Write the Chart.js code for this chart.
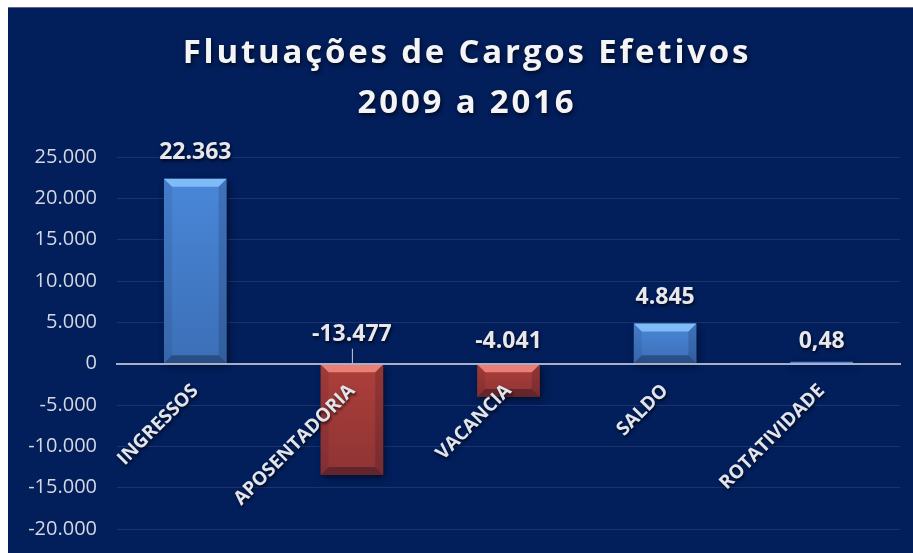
<!DOCTYPE html>
<html>
<head>
<meta charset="utf-8">
<script src="https://cdn.jsdelivr.net/npm/chart.js@4.4.1/dist/chart.umd.min.js"></script>
<style>
  html, body { margin: 0; padding: 0; background: #fff; }
  #wrap { position: relative; width: 913px; height: 553px; }
</style>
</head>
<body>
<div id="wrap"><canvas id="chart"></canvas></div>
<script>
let titleLines = ['Flutuações de Cargos Efetivos', '2009 a 2016']
let categories = ['INGRESSOS', 'APOSENTADORIA', 'VACANCIA', 'SALDO', 'ROTATIVIDADE']
let values = [22363, -13477, -4041, 4845, 0.48]
let yMin = -20000
let yMax = 25000
let yStep = 5000

// extra lift for the value labels sitting over the zero line (style only)
let labelLift = [0, 7, 0, 0, 0]

function fmtBR(v) {
  let neg = v < 0
  let a = Math.abs(v)
  let whole = Math.floor(a)
  let frac = Math.round((a - whole) * 100)
  let s = String(whole).replace(/\B(?=(\d{3})+(?!\d))/g, '.')
  if (frac > 0) s += ',' + String(frac).padStart(2, '0')
  return (neg ? '-' : '') + s
}

function withShadow(ctx, blur) {
  ctx.shadowColor = 'rgba(0,0,0,0.7)'
  ctx.shadowBlur = blur
  ctx.shadowOffsetX = 1
  ctx.shadowOffsetY = 2
}

let backdrop = {
  id: 'backdrop',
  beforeDraw(chart) {
    let ctx = chart.ctx
    ctx.save()
    ctx.fillStyle = '#ffffff'
    ctx.fillRect(0, 0, chart.width, chart.height)
    ctx.fillStyle = '#021e5b'
    ctx.fillRect(8, 7, chart.width - 8, chart.height - 7)
    ctx.fillStyle = '#5d6688'
    ctx.fillRect(8, 7, chart.width - 8, 1)
    ctx.restore()

    // spaced, shadowed title and shadowed category labels
    let t = chart.titleBlock
    if (t && !t._styled) {
      let drawTitle = t.draw
      t.draw = function(...args) {
        this.ctx.save()
        this.ctx.translate(17, 0)
        this.ctx.letterSpacing = '2.8px'
        withShadow(this.ctx, 4)
        drawTitle.apply(this, args)
        this.ctx.restore()
      }
      t._styled = true
    }
    let xs = chart.scales.x
    if (xs && !xs._styled) {
      let drawLabels = xs.drawLabels
      xs.drawLabels = function(...args) {
        this.ctx.save()
        withShadow(this.ctx, 3)
        drawLabels.apply(this, args)
        this.ctx.restore()
      }
      xs._styled = true
    }
  },
}

let barShadow = {
  id: 'barShadow',
  beforeDatasetsDraw(chart) {
    let ctx = chart.ctx
    ctx.save()
    ctx.shadowColor = 'rgba(0,0,0,0.55)'
    ctx.shadowBlur = 7
    ctx.shadowOffsetX = 2
    ctx.shadowOffsetY = 3
  },
  afterDatasetsDraw(chart) {
    chart.ctx.restore()
  },
}

function quad(ctx, pts, colour) {
  ctx.beginPath()
  ctx.moveTo(pts[0][0], pts[0][1])
  for (let p of pts.slice(1)) ctx.lineTo(p[0], p[1])
  ctx.closePath()
  ctx.fillStyle = colour
  ctx.fill()
}

let bevel = {
  id: 'bevel',
  afterDatasetsDraw(chart) {
    let ctx = chart.ctx
    let meta = chart.getDatasetMeta(0)
    ctx.save()
    meta.data.forEach((bar, i) => {
      let p = bar.getProps(['x', 'y', 'base', 'width'], true)
      let l = p.x - p.width / 2
      let r = p.x + p.width / 2
      let t = Math.min(p.y, p.base)
      let b = Math.max(p.y, p.base)
      if (b - t < 8) return
      let e = Math.min(8, (b - t) / 3)
      let up = values[i] >= 0
      let g = ctx.createLinearGradient(0, t, 0, b)
      g.addColorStop(0, 'rgba(0,0,30,0)')
      g.addColorStop(1, 'rgba(0,0,30,0.18)')
      ctx.fillStyle = g
      ctx.fillRect(l, t, r - l, b - t)
      quad(ctx, [[l, t], [r, t], [r - e, t + e], [l + e, t + e]],
        up ? 'rgba(140,200,255,0.8)' : 'rgba(255,150,140,0.75)')
      quad(ctx, [[l, b], [r, b], [r - e, b - e], [l + e, b - e]], 'rgba(0,0,20,0.3)')
      quad(ctx, [[l, t], [l + e, t + e], [l + e, b - e], [l, b]], 'rgba(0,0,20,0.08)')
      quad(ctx, [[r, t], [r - e, t + e], [r - e, b - e], [r, b]], 'rgba(0,0,20,0.15)')
    })
    ctx.restore()
  },
}

let valueLabels = {
  id: 'valueLabels',
  afterDatasetsDraw(chart) {
    let ctx = chart.ctx
    let meta = chart.getDatasetMeta(0)
    let zeroY = chart.scales.y.getPixelForValue(0)
    ctx.save()
    ctx.font = 'bold 23px "Open Sans"'
    ctx.textAlign = 'center'
    ctx.textBaseline = 'middle'
    meta.data.forEach((bar, i) => {
      let v = values[i]
      let y = v >= 1000 ? bar.y - 26 : zeroY - 22 - labelLift[i]
      if (labelLift[i] > 0) {
        ctx.shadowColor = 'transparent'
        ctx.strokeStyle = '#c8ccd8'
        ctx.lineWidth = 1
        ctx.beginPath()
        ctx.moveTo(bar.x + 0.5, y + 14)
        ctx.lineTo(bar.x + 0.5, zeroY)
        ctx.stroke()
      }
      withShadow(ctx, 3)
      ctx.fillStyle = '#e8e8ec'
      ctx.fillText(fmtBR(v), bar.x, y)
    })
    ctx.restore()
  },
}

let ctx = document.getElementById('chart').getContext('2d')
let chart = new Chart(ctx, {
  type: 'bar',
  data: {
    labels: categories,
    datasets: [{
      data: values,
      backgroundColor: values.map(v => v >= 0 ? '#4987d8' : '#ad3f3a'),
      borderWidth: 0,
      minBarLength: 2,
      categoryPercentage: 0.8,
      barPercentage: 0.5,
    }],
  },
  options: {
    responsive: true,
    maintainAspectRatio: false,
    animation: false,
    layout: {
      padding: {left: 0, right: 13, top: 7, bottom: 24},
    },
    plugins: {
      legend: {display: false},
      tooltip: {enabled: false},
      title: {
        display: true,
        text: titleLines,
        color: '#f4f4f6',
        font: {family: '"Open Sans"', size: 33, weight: 'bold', lineHeight: 1.5},
        padding: {top: 22, bottom: 29},
      },
    },
    scales: {
      x: {
        position: {y: 0},
        grid: {display: false},
        border: {display: true, color: '#a9afc4', width: 2, z: 1},
        ticks: {
          z: 1,
          color: '#e2e4ec',
          font: {family: '"Open Sans"', size: 19, weight: 'bold'},
          minRotation: 45,
          maxRotation: 45,
          autoSkip: false,
          padding: 8,
        },
        afterFit(scale) {
          scale.height = 0
        },
      },
      y: {
        min: yMin,
        max: yMax,
        grid: {color: 'rgba(255,255,255,0.1)', drawTicks: true, tickLength: 20, tickColor: 'rgba(0,0,0,0)'},
        border: {display: false},
        ticks: {
          stepSize: yStep,
          color: '#d4d8e2',
          padding: 0,
          font: {family: '"Open Sans"', size: 20},
          callback: v => fmtBR(v),
        },
        afterFit(scale) {
          scale.width = 117
        },
      },
    },
  },
  plugins: [backdrop, barShadow, bevel, valueLabels],
})
</script>
</body>
</html>
